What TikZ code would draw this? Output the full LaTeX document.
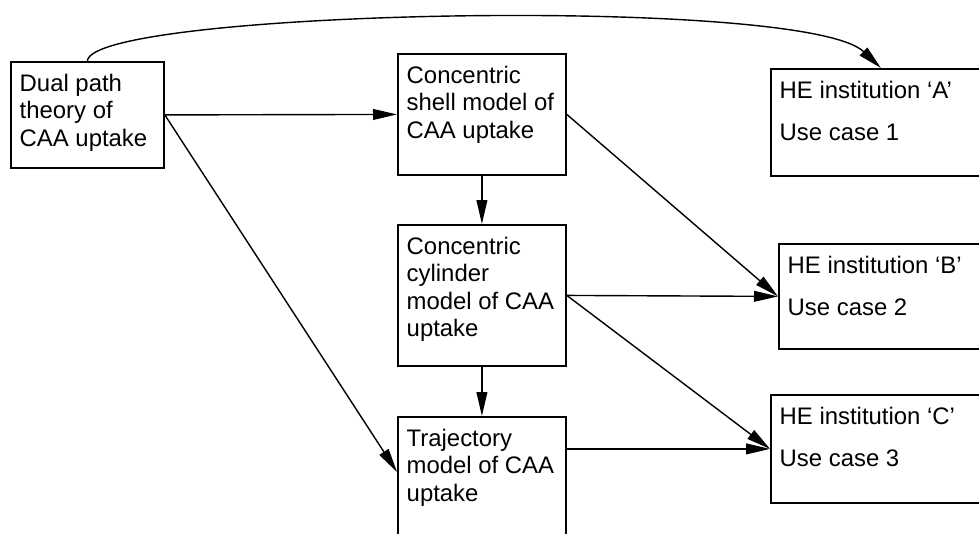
\documentclass[tikz,border=0pt]{standalone}
\usepackage{fontspec}
\setmainfont{Liberation Sans}
\usetikzlibrary{arrows.meta}
\newcommand{\boxtext}[3]{\parbox[t][#2][t]{#1}{\raggedright #3}}

\begin{document}
\begin{tikzpicture}[
        stage/.style={draw, line width=1.3pt, anchor=north west, inner xsep=0.22cm, inner ysep=0.3cm, font=\fontsize{17}{19.5}\selectfont},
        conn/.style={-{Triangle[length=0.6cm, width=0.27cm]}, line width=1pt}
    ]
    \useasboundingbox[fill=white] (0,0) rectangle (24.475,13.325);
    \clip (0,0) rectangle (24.475,13.325);

    % Theory and models
    \node[stage] (dual) at (0.25, 11.8) {\boxtext{3.385cm}{2.05cm}{Dual path\\theory of\\CAA uptake}};
    \node[stage] (shell) at (9.925, 12.0) {\boxtext{3.76cm}{2.425cm}{Concentric\\shell model of\\CAA uptake}};
    \node[stage] (cyl) at (9.925, 7.725) {\boxtext{3.76cm}{2.925cm}{Concentric\\cylinder\\model of CAA\\uptake}};
    \node[stage] (traj) at (9.925, 2.925) {\boxtext{3.76cm}{2.7cm}{Trajectory\\model of CAA\\uptake}};

    % Use cases
    \node[stage] (heA) at (19.25, 11.625) {\boxtext{5.06cm}{2.075cm}{HE institution ‘A’\\[0.36cm]Use case 1}};
    \node[stage] (heB) at (19.45, 7.25) {\boxtext{5.06cm}{2.025cm}{HE institution ‘B’\\[0.36cm]Use case 2}};
    \node[stage] (heC) at (19.25, 3.475) {\boxtext{5.06cm}{2.1cm}{HE institution ‘C’\\[0.36cm]Use case 3}};

    \coordinate (trajin) at ([yshift=-1.4cm]traj.north west);
    \coordinate (trajout) at (traj.east |- heC.west);

    % Connections
    \draw[conn] (dual.north) .. controls +(0.075,1.275) and +(-1.925,1.825) .. (heA.north);
    \draw[conn] (dual.east) -- (shell.west);
    \draw[conn] (dual.east) -- (trajin);
    \draw[conn] (shell.south) -- (cyl.north);
    \draw[conn] (cyl.south) -- (traj.north);
    \draw[conn] (shell.east) -- (heB.west);
    \draw[conn] (cyl.east) -- (heB.west);
    \draw[conn] (cyl.east) -- (heC.west);
    \draw[conn] (trajout) -- (heC.west);
\end{tikzpicture}
\end{document}
